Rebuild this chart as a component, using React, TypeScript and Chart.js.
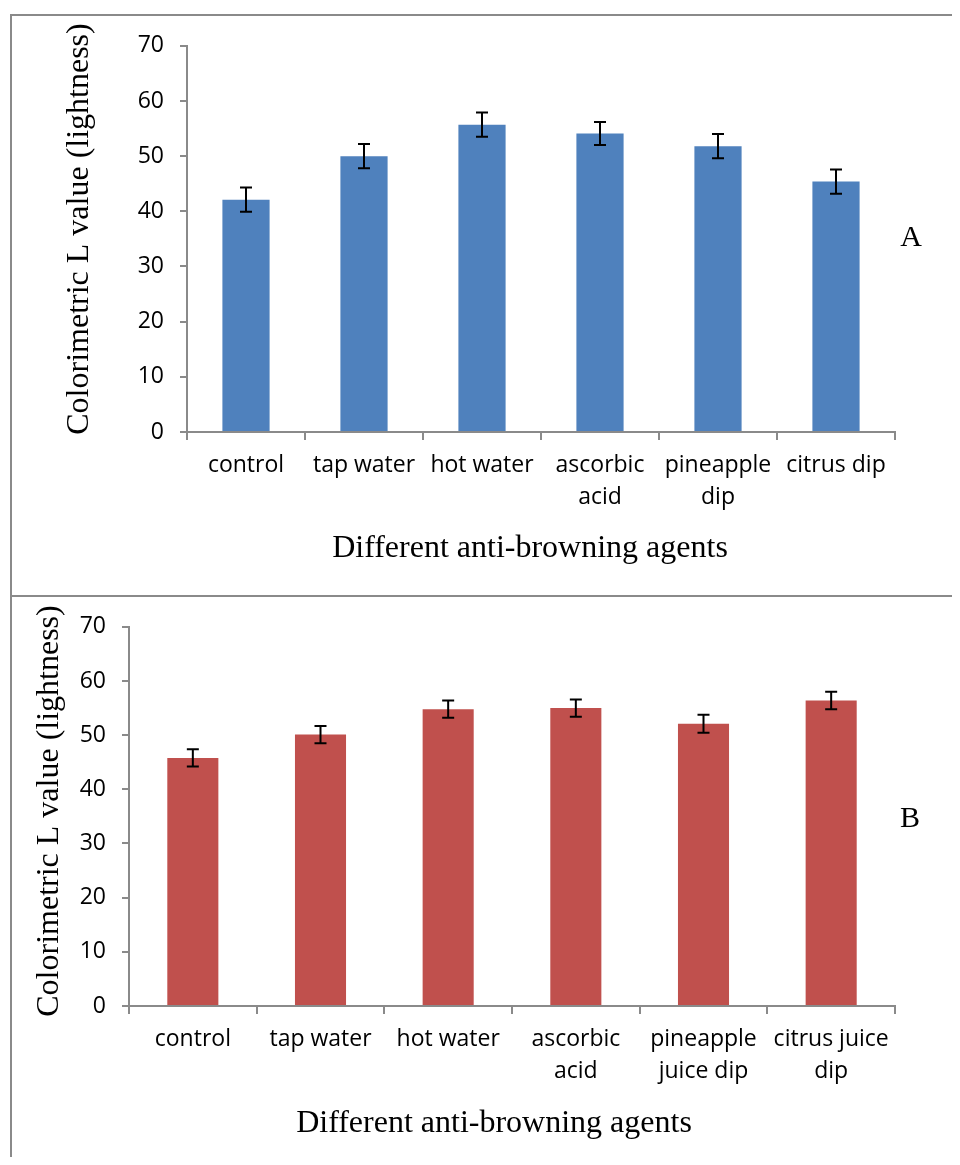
import React, { useEffect, useRef } from "react";
import { Chart, registerables } from "chart.js";

Chart.register(...registerables);

const categoriesA: (string | string[])[] = [
  "control",
  "tap water",
  "hot water",
  ["ascorbic", "acid"],
  ["pineapple", "dip"],
  "citrus dip",
];
const valuesA = [42.1, 50.0, 55.7, 54.1, 51.8, 45.4];
const errorsA = [2.2, 2.2, 2.2, 2.1, 2.2, 2.2];

const categoriesB: (string | string[])[] = [
  "control",
  "tap water",
  "hot water",
  ["ascorbic", "acid"],
  ["pineapple", "juice dip"],
  ["citrus juice", "dip"],
];
const valuesB = [45.8, 50.1, 54.8, 55.0, 52.1, 56.4];
const errorsB = [1.6, 1.6, 1.6, 1.6, 1.65, 1.6];

const yTitle = "Colorimetric L value (lightness)";
const xTitle = "Different anti-browning agents";
const yMin = 0;
const yMax = 70;
const yStep = 10;

const SERIF = "'Liberation Serif', 'Times New Roman', serif";
const SANS = "'Open Sans', 'Noto Sans', sans-serif";
const AXIS_GRAY = "#8a8a8a";

const errorBarPlugin = {
  id: "errorBars",
  afterDatasetsDraw(chart: any) {
    const errs: number[] = chart.options.plugins.errorBars?.errors || [];
    const yScale = chart.scales.y;
    const ctx = chart.ctx;
    chart.data.datasets.forEach((ds: any, di: number) => {
      const meta = chart.getDatasetMeta(di);
      meta.data.forEach((el: any, i: number) => {
        const v = ds.data[i];
        const e = errs[i] || 0;
        const yTop = yScale.getPixelForValue(v + e);
        const yBot = yScale.getPixelForValue(v - e);
        const x = el.x;
        ctx.save();
        ctx.strokeStyle = "#000";
        ctx.lineWidth = 2;
        ctx.beginPath();
        ctx.moveTo(x, yTop);
        ctx.lineTo(x, yBot);
        ctx.moveTo(x - 6, yTop);
        ctx.lineTo(x + 6, yTop);
        ctx.moveTo(x - 6, yBot);
        ctx.lineTo(x + 6, yBot);
        ctx.stroke();
        ctx.restore();
      });
    });
  },
};

// axis titles drawn as canvas text so their centres can be placed freely
const axisTitlePlugin = {
  id: "axisTitles",
  afterDraw(chart: any) {
    const o = chart.options.plugins.axisTitles;
    if (!o) return;
    const ctx = chart.ctx;
    ctx.save();
    ctx.font = `32px ${SERIF}`;
    ctx.fillStyle = "#000";
    ctx.textAlign = "center";
    ctx.textBaseline = "middle";
    ctx.fillText(o.xText, o.xx, o.xy);
    ctx.translate(o.yx, o.yy);
    ctx.rotate(-Math.PI / 2);
    ctx.fillText(o.yText, 0, 0);
    ctx.restore();
  },
};

type PanelProps = {
  labels: (string | string[])[];
  values: number[];
  errors: number[];
  color: string;
  width: number;
  height: number;
  yAxisWidth: number;
  xAxisHeight: number;
  yTitleX: number;
  yTitleY: number;
  xTitleX: number;
  xTitleY: number;
};

function BarPanel(p: PanelProps) {
  const ref = useRef<HTMLCanvasElement | null>(null);
  useEffect(() => {
    if (!ref.current) return;
    const chart = new Chart(ref.current, {
      type: "bar",
      data: {
        labels: p.labels,
        datasets: [
          {
            data: p.values,
            backgroundColor: p.color,
            borderWidth: 0,
            categoryPercentage: 1,
            barPercentage: 0.4,
          },
        ],
      },
      plugins: [errorBarPlugin, axisTitlePlugin],
      options: {
        animation: false,
        responsive: false,
        maintainAspectRatio: false,
        layout: { padding: { top: 29, right: 65, left: 0, bottom: 0 } },
        plugins: {
          legend: { display: false },
          tooltip: { enabled: false },
          errorBars: { errors: p.errors },
          axisTitles: {
            xText: xTitle,
            xx: p.xTitleX,
            xy: p.xTitleY,
            yText: yTitle,
            yx: p.yTitleX,
            yy: p.yTitleY,
          },
        } as any,
        scales: {
          x: {
            grid: {
              offset: true,
              drawOnChartArea: false,
              drawTicks: true,
              tickLength: 8,
              color: AXIS_GRAY,
              lineWidth: 2,
            },
            border: { display: true, color: AXIS_GRAY, width: 2 },
            ticks: {
              font: { family: SANS, size: 23, lineHeight: 1.38 },
              color: "#000",
              padding: 10,
              maxRotation: 0,
              minRotation: 0,
              autoSkip: false,
            },
            title: { display: false },
            afterFit: (scale: any) => {
              scale.height = p.xAxisHeight;
            },
          },
          y: {
            min: yMin,
            max: yMax,
            grid: {
              drawOnChartArea: false,
              drawTicks: true,
              tickLength: 7,
              color: AXIS_GRAY,
              lineWidth: 2,
            },
            border: { display: true, color: AXIS_GRAY, width: 2 },
            ticks: {
              stepSize: yStep,
              font: { family: SANS, size: 23 },
              color: "#000",
              padding: 16,
            },
            title: { display: false },
            afterFit: (scale: any) => {
              scale.width = p.yAxisWidth;
            },
          },
        },
      } as any,
    });
    return () => chart.destroy();
  }, []);
  return (
    <canvas
      ref={ref}
      width={p.width}
      height={p.height}
      style={{ display: "block", width: p.width, height: p.height }}
    />
  );
}

export default function App() {
  const letterStyle: React.CSSProperties = {
    position: "absolute",
    fontFamily: SERIF,
    fontSize: 30,
    lineHeight: 1,
    color: "#000",
    transform: "translate(-50%, -50%)",
  };
  const line = (left: number, top: number, w: number, h: number): React.CSSProperties => ({
    position: "absolute",
    left,
    top,
    width: w,
    height: h,
    background: AXIS_GRAY,
  });
  return (
    <div style={{ position: "relative", marginTop: 6, marginLeft: 2, width: 950, height: 1143 }}>
      <div style={{ position: "absolute", left: 2, top: 2 }}>
        <BarPanel
          labels={categoriesA}
          values={valuesA}
          errors={errorsA}
          color="#4F81BD"
          width={948}
          height={579}
          yAxisWidth={175}
          xAxisHeight={163}
          yTitleX={68}
          yTitleY={213}
          xTitleX={518}
          xTitleY={533}
        />
      </div>
      <div style={{ position: "absolute", left: 2, top: 583 }}>
        <BarPanel
          labels={categoriesB}
          values={valuesB}
          errors={errorsB}
          color="#C0504D"
          width={948}
          height={560}
          yAxisWidth={117}
          xAxisHeight={151}
          yTitleX={38}
          yTitleY={214}
          xTitleX={482}
          xTitleY={527}
        />
      </div>
      <div style={line(0, 0, 950, 2)} />
      <div style={line(0, 581, 950, 2)} />
      <div style={line(0, 0, 2, 1143)} />
      <div style={{ ...letterStyle, left: 901, top: 222 }}>A</div>
      <div style={{ ...letterStyle, left: 900, top: 803 }}>B</div>
    </div>
  );
}
